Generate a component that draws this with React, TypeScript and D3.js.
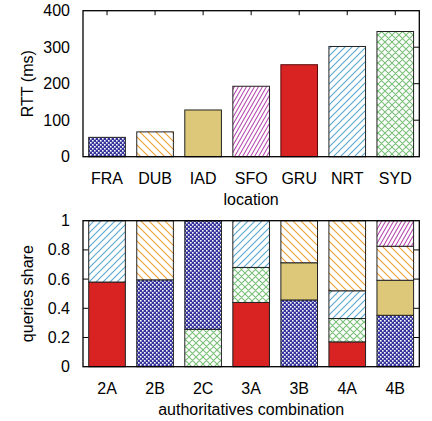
import React from 'react';
import * as d3 from 'd3';

const locations = ['FRA', 'DUB', 'IAD', 'SFO', 'GRU', 'NRT', 'SYD'];
const rtt = [53, 68, 128, 193, 252, 302, 343];
const rttTicks = [0, 100, 200, 300, 400];

const combos = ['2A', '2B', '2C', '3A', '3B', '4A', '4B'];
const shareGRU = [0.58, 0, 0, 0.44, 0, 0.17, 0];
const shareSYD = [0, 0, 0.256, 0.24, 0, 0.16, 0];
const shareNRT = [0.42, 0, 0, 0.32, 0, 0.19, 0];
const shareFRA = [0, 0.595, 0.744, 0, 0.457, 0, 0.352];
const shareIAD = [0, 0, 0, 0, 0.255, 0, 0.24];
const shareDUB = [0, 0.405, 0, 0, 0.288, 0.48, 0.233];
const shareSFO = [0, 0, 0, 0, 0, 0, 0.175];
const stackOrder = ['GRU', 'SYD', 'NRT', 'FRA', 'IAD', 'DUB', 'SFO'];
const shareTicks = [0, 0.2, 0.4, 0.6, 0.8, 1];
const shareTickLabels = ['0', '0.2', '0.4', '0.6', '0.8', '1'];

const shareBySeries: Record<string, number[]> = {
  GRU: shareGRU, SYD: shareSYD, NRT: shareNRT, FRA: shareFRA,
  IAD: shareIAD, DUB: shareDUB, SFO: shareSFO,
};

const FONT = '"Liberation Sans", Arial, Helvetica, sans-serif';
const L = 83, R = 419.3;

const fillOf = (loc: string) => `url(#pat-${loc})`;

function Patterns() {
  return (
    <defs>
      <pattern id="pat-FRA" width={4} height={4} patternUnits="userSpaceOnUse">
        <rect width={4} height={4} fill="#34349c" />
        <rect x={0} y={0} width={1.6} height={1.6} fill="#fff" />
        <rect x={2} y={2} width={1.6} height={1.6} fill="#fff" />
      </pattern>
      <pattern id="pat-DUB" width={8} height={8} patternUnits="userSpaceOnUse">
        <rect width={8} height={8} fill="#fff" />
        <path d="M-2,-2 L10,10 M-2,6 L2,10 M6,-2 L10,2" stroke="#eea030" strokeWidth={1.1} />
      </pattern>
      <pattern id="pat-IAD" width={4} height={4} patternUnits="userSpaceOnUse">
        <rect width={4} height={4} fill="#dcc878" />
      </pattern>
      <pattern id="pat-SFO" width={4} height={7} patternUnits="userSpaceOnUse">
        <rect width={4} height={7} fill="#fff" />
        <path d="M-2,10.5 L6,-3.5 M-6,10.5 L2,-3.5 M2,10.5 L10,-3.5" stroke="#b848b0" strokeWidth={1.1} />
      </pattern>
      <pattern id="pat-GRU" width={4} height={4} patternUnits="userSpaceOnUse">
        <rect width={4} height={4} fill="#d92222" />
      </pattern>
      <pattern id="pat-NRT" width={7} height={7} patternUnits="userSpaceOnUse">
        <rect width={7} height={7} fill="#fff" />
        <path d="M-2,9 L9,-2 M-2,2 L2,-2 M5,9 L9,5" stroke="#5aa8d0" strokeWidth={1.1} />
      </pattern>
      <pattern id="pat-SYD" width={7} height={7} patternUnits="userSpaceOnUse">
        <rect width={7} height={7} fill="#fff" />
        <path d="M-2,9 L9,-2 M-2,2 L2,-2 M5,9 L9,5 M-2,-2 L9,9 M-2,5 L2,9 M5,-2 L9,2" stroke="#78c078" strokeWidth={1.1} />
      </pattern>
    </defs>
  );
}

function Frame({ top, bottom }: { top: number; bottom: number }) {
  return <rect x={L} y={top} width={R - L} height={bottom - top} fill="none" stroke="#000" strokeWidth={1.3} />;
}

export default function App() {
  const W = 432, H = 421;
  const x = d3.scaleBand<string>().domain(locations).range([L, R]).paddingInner(0.2375).paddingOuter(0.119);
  const xc = d3.scaleBand<string>().domain(combos).range([L, R]).paddingInner(0.2375).paddingOuter(0.119);

  const top1 = 10.7, bot1 = 156.7;
  const y1 = d3.scaleLinear().domain([0, 400]).range([bot1, top1]);
  const top2 = 220.7, bot2 = 366.7;
  const y2 = d3.scaleLinear().domain([0, 1]).range([bot2, top2]);

  const rows = combos.map((c, i) => {
    const o: Record<string, number | string> = { combo: c };
    stackOrder.forEach((k) => { o[k] = shareBySeries[k][i]; });
    return o;
  });
  const stacked = d3.stack<any>().keys(stackOrder)(rows as any);

  return (
    <svg width={W} height={H} style={{ position: 'absolute', left: 0, top: 0, background: '#fff' }} fontFamily={FONT}>
      <Patterns />
      <rect width={W} height={H} fill="#fff" />

      {/* Top chart */}
      {locations.map((loc) => (
        <line key={'tt' + loc} x1={x(loc)! + x.bandwidth() / 2} x2={x(loc)! + x.bandwidth() / 2} y1={top1} y2={top1 + 4.5} stroke="#000" strokeWidth={1} />
      ))}
      {rttTicks.slice(1, -1).map((t) => (
        <line key={'rt' + t} x1={R - 6} x2={R} y1={y1(t)} y2={y1(t)} stroke="#000" strokeWidth={1} />
      ))}
      {locations.map((loc, i) => (
        <rect key={'b' + loc} x={x(loc)!} y={y1(rtt[i])} width={x.bandwidth()} height={y1(0) - y1(rtt[i])}
          fill={fillOf(loc)} stroke={loc === 'GRU' ? '#5a0a0a' : '#222'} strokeWidth={1} />
      ))}
      <Frame top={top1} bottom={bot1} />
      {rttTicks.map((t) => (
        <text key={'yl' + t} x={70} y={y1(t)} textAnchor="end" dominantBaseline="central" fontSize={16}>{t}</text>
      ))}
      {locations.map((loc) => (
        <text key={'xl' + loc} x={x(loc)! + x.bandwidth() / 2} y={178} textAnchor="middle" dominantBaseline="central" fontSize={16}>{loc}</text>
      ))}
      <text x={(L + R) / 2} y={199} textAnchor="middle" dominantBaseline="central" fontSize={16}>location</text>
      <text transform={`translate(27,${(top1 + bot1) / 2}) rotate(-90)`} textAnchor="middle" dominantBaseline="central" fontSize={16}>RTT (ms)</text>

      {/* Bottom chart */}
      {shareTicks.slice(1, -1).map((t) => (
        <g key={'st' + t}>
          <line x1={L} x2={L + 5.5} y1={y2(t)} y2={y2(t)} stroke="#000" strokeWidth={1} />
          <line x1={R - 5.5} x2={R} y1={y2(t)} y2={y2(t)} stroke="#000" strokeWidth={1} />
        </g>
      ))}
      {stacked.map((series) => series.map((d, i) => {
        const v = d[1] - d[0];
        if (v <= 0) return null;
        return (
          <rect key={series.key + i} x={xc(combos[i])!} y={y2(d[1])} width={xc.bandwidth()} height={y2(d[0]) - y2(d[1])}
            fill={fillOf(series.key)} stroke="#222" strokeWidth={1} />
        );
      }))}
      <Frame top={top2} bottom={bot2} />
      {shareTicks.map((t, i) => (
        <text key={'syl' + t} x={70} y={y2(t)} textAnchor="end" dominantBaseline="central" fontSize={16}>{shareTickLabels[i]}</text>
      ))}
      {combos.map((c) => (
        <text key={'cl' + c} x={xc(c)! + xc.bandwidth() / 2} y={388} textAnchor="middle" dominantBaseline="central" fontSize={16}>{c}</text>
      ))}
      <text x={(L + R) / 2} y={409} textAnchor="middle" dominantBaseline="central" fontSize={16}>authoritatives combination</text>
      <text transform={`translate(27,${(top2 + bot2) / 2}) rotate(-90)`} textAnchor="middle" dominantBaseline="central" fontSize={16}>queries share</text>
    </svg>
  );
}
